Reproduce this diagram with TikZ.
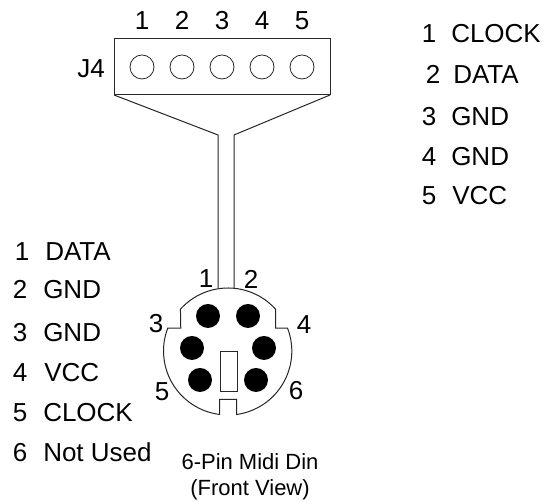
\documentclass[tikz,border=0pt]{standalone}
\usepackage{fontspec}
\setmainfont{Liberation Sans}
\tikzset{
  wire/.style={line width=0.75pt, black!85},
  lbl/.style={inner sep=0pt, font=\fontsize{19.5}{22}\selectfont},
  numlbl/.style={lbl, anchor=base},
  pinname/.style={lbl, anchor=base west},
  captionlbl/.style={inner sep=0pt, anchor=base, font=\fontsize{16.5}{20}\selectfont},
}
\begin{document}
\begin{tikzpicture}[x=0.75pt, y=0.75pt]
  \useasboundingbox (0,0) rectangle (547,502);
  \coordinate (din) at (228,150);
  \def\dinRadius{64}
  % header J4
  \draw[wire] (114,407) rectangle (330,463);
  \foreach \n/\x in {1/142, 2/182, 3/222, 4/262, 5/302} {
    \draw[wire, line width=0.6pt] (\x,435) circle [radius=12];
    \node (top\n) [numlbl] at (\x,472) {\n};
  }
  \node (J4) [numlbl] at (91,424) {J4};
  % cable
  \coordinate (boxL) at (114,407);
  \coordinate (boxR) at (330,407);
  \coordinate (cableL) at (218,367);
  \coordinate (cableR) at (234,367);
  \coordinate (dinL) at (218,214);
  \coordinate (dinR) at (234,214);
  \draw[wire] (boxL) -- (cableL) -- (dinL);
  \draw[wire] (boxR) -- (cableR) -- (dinR);
  % din outline
  \draw[wire, fill=white]
    (din) ++(138:\dinRadius) arc [start angle=138, end angle=42, radius=\dinRadius]
    -- ++(0,-19) -- ++(12,0)
    arc [start angle=21, end angle=-82, radius=\dinRadius]
    -- ++(0,15) -- ++(-17,0) -- ++(0,-15)
    arc [start angle=263, end angle=159, radius=\dinRadius]
    -- ++(13,0) -- cycle
  ;
  \draw[wire] (220,110) rectangle (237,150);
  \foreach \x/\y in {208/186, 248/186, 192/154, 264/154, 200/122, 256/122} {
    \fill (\x,\y) circle [radius=12];
  }
  \foreach \n/\x/\y in {1/206/214, 2/251/213, 3/156/169, 4/304/168, 5/162/101, 6/296/102} {
    \node (pin\n) [numlbl] at (\x,\y) {\n};
  }
  % caption
  \node (caption) [captionlbl] at (250,32) {6-Pin Midi Din};
  \node (captionB) [captionlbl] at (250,6) {(Front View)};
  % pin lists
  \foreach \n/\t/\d/\x/\y in {1/CLOCK/429/451/459, 2/DATA/433/453/418, 3/GND/429/451/376, 4/GND/429/451/336, 5/VCC/429/452/297} {
    \node (rnum\n) [numlbl] at (\d,\y) {\n};
    \node (rname\n) [pinname] at (\x,\y) {\t};
  }
  \foreach \n/\t/\d/\x/\y in {1/DATA/22/45/241, 2/GND/20/43/203, 3/GND/20/43/160, 4/VCC/20/44/120, 5/CLOCK/20/43/80, 6/Not Used/20/43/40} {
    \node (lnum\n) [numlbl] at (\d,\y) {\n};
    \node (lname\n) [pinname] at (\x,\y) {\t};
  }
\end{tikzpicture}
\end{document}
